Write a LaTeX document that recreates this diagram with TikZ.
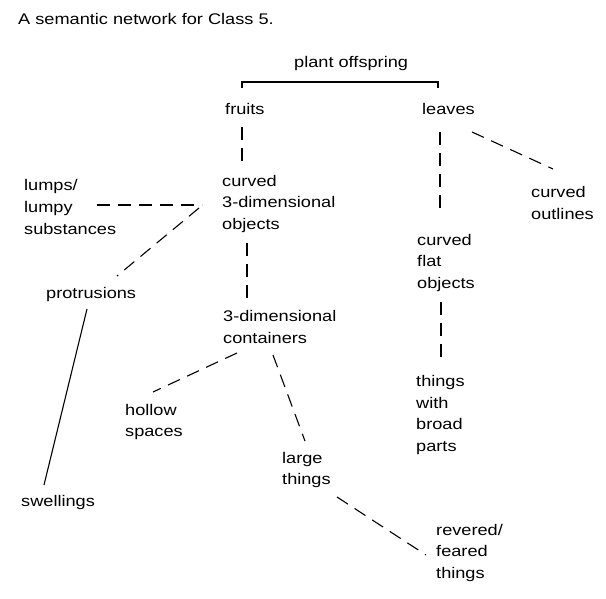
\documentclass[tikz,border=0pt]{standalone}
\usepackage{fontspec}
\setmainfont{Liberation Sans}[FakeStretch=1.18]
\usetikzlibrary{positioning}

\begin{document}
\begin{tikzpicture}[
    x=1pt, y=-1pt,
    concept/.style={anchor=west, inner sep=0pt, align=left,
                    font=\fontsize{15.4}{21.8}\selectfont},
    link/.style={draw=black, line width=1.1pt, dash pattern=on 13pt off 8pt},
    solidlink/.style={draw=black, line width=1.1pt},
    bracket/.style={draw=black, line width=1.3pt},
  ]
    \useasboundingbox (0,0) rectangle (606,598);

    \node[concept] (title) at (18,19) {A semantic network for Class 5.};
    \node[concept] (offspring) at (294,64) {plant offspring};
    \node[concept] (fruits) at (225,109) {fruits};
    \node[concept] (leaves) at (422,109) {leaves};
    \node[concept] (curvedobj) at (222,204) {curved\\3-dimensional\\objects};
    \node[concept] (lumps) at (24,207) {lumps/\\lumpy\\substances};
    \node[concept] (outlines) at (531,203) {curved\\outlines};
    \node[concept] (protrusions) at (46,295) {protrusions};
    \node[concept] (containers) at (223,327) {3-dimensional\\containers};
    \node[concept] (flatobj) at (417,263) {curved\\flat\\objects};
    \node[concept] (broad) at (416,415) {things\\with\\broad\\parts};
    \node[concept] (hollow) at (125,422) {hollow\\spaces};
    \node[concept] (large) at (282,470) {large\\things};
    \node[concept] (swellings) at (21,503) {swellings};
    \node[concept] (revered) at (436,553) {revered/\\feared\\things};

    % bracket under the top concept
    \draw[bracket] ([xshift=17pt,yshift=21pt]fruits.west)
      |- ([yshift=-18pt]offspring.west)
      -| ([xshift=16pt,yshift=21pt]leaves.west);

    % links
    \draw[link] ([xshift=17pt,yshift=-18pt]fruits.west) -- ([xshift=20pt,yshift=40pt]curvedobj.west);
    \draw[link] ([xshift=73pt,yshift=2pt]lumps.west) -- ([xshift=-20pt,yshift=-1pt]curvedobj.west);
    \draw[link] ([xshift=-23pt,yshift=-4pt]curvedobj.west) -- ([xshift=71pt,yshift=19pt]protrusions.west);
    \draw[solidlink] ([xshift=41pt,yshift=-14pt]protrusions.west) -- ([xshift=23pt,yshift=18pt]swellings.west);
    \draw[link] ([xshift=25pt,yshift=-39pt]curvedobj.west) -- ([xshift=24pt,yshift=26pt]containers.west);
    \draw[link] ([xshift=14pt,yshift=-26pt]containers.west) -- ([xshift=28pt,yshift=30pt]hollow.west);
    \draw[link] ([xshift=50pt,yshift=-28pt]containers.west) -- ([xshift=23pt,yshift=29pt]large.west);
    \draw[link] ([xshift=55pt,yshift=-27pt]large.west) -- ([xshift=-10pt,yshift=-2pt]revered.west);
    \draw[link] ([xshift=18pt,yshift=-23pt]leaves.west) -- ([xshift=23pt,yshift=49pt]flatobj.west);
    \draw[link] ([xshift=50pt,yshift=-23pt]leaves.west) -- ([xshift=22pt,yshift=34pt]outlines.west);
    \draw[link] ([xshift=24pt,yshift=-39pt]flatobj.west) -- ([xshift=25pt,yshift=53pt]broad.west);
\end{tikzpicture}
\end{document}
